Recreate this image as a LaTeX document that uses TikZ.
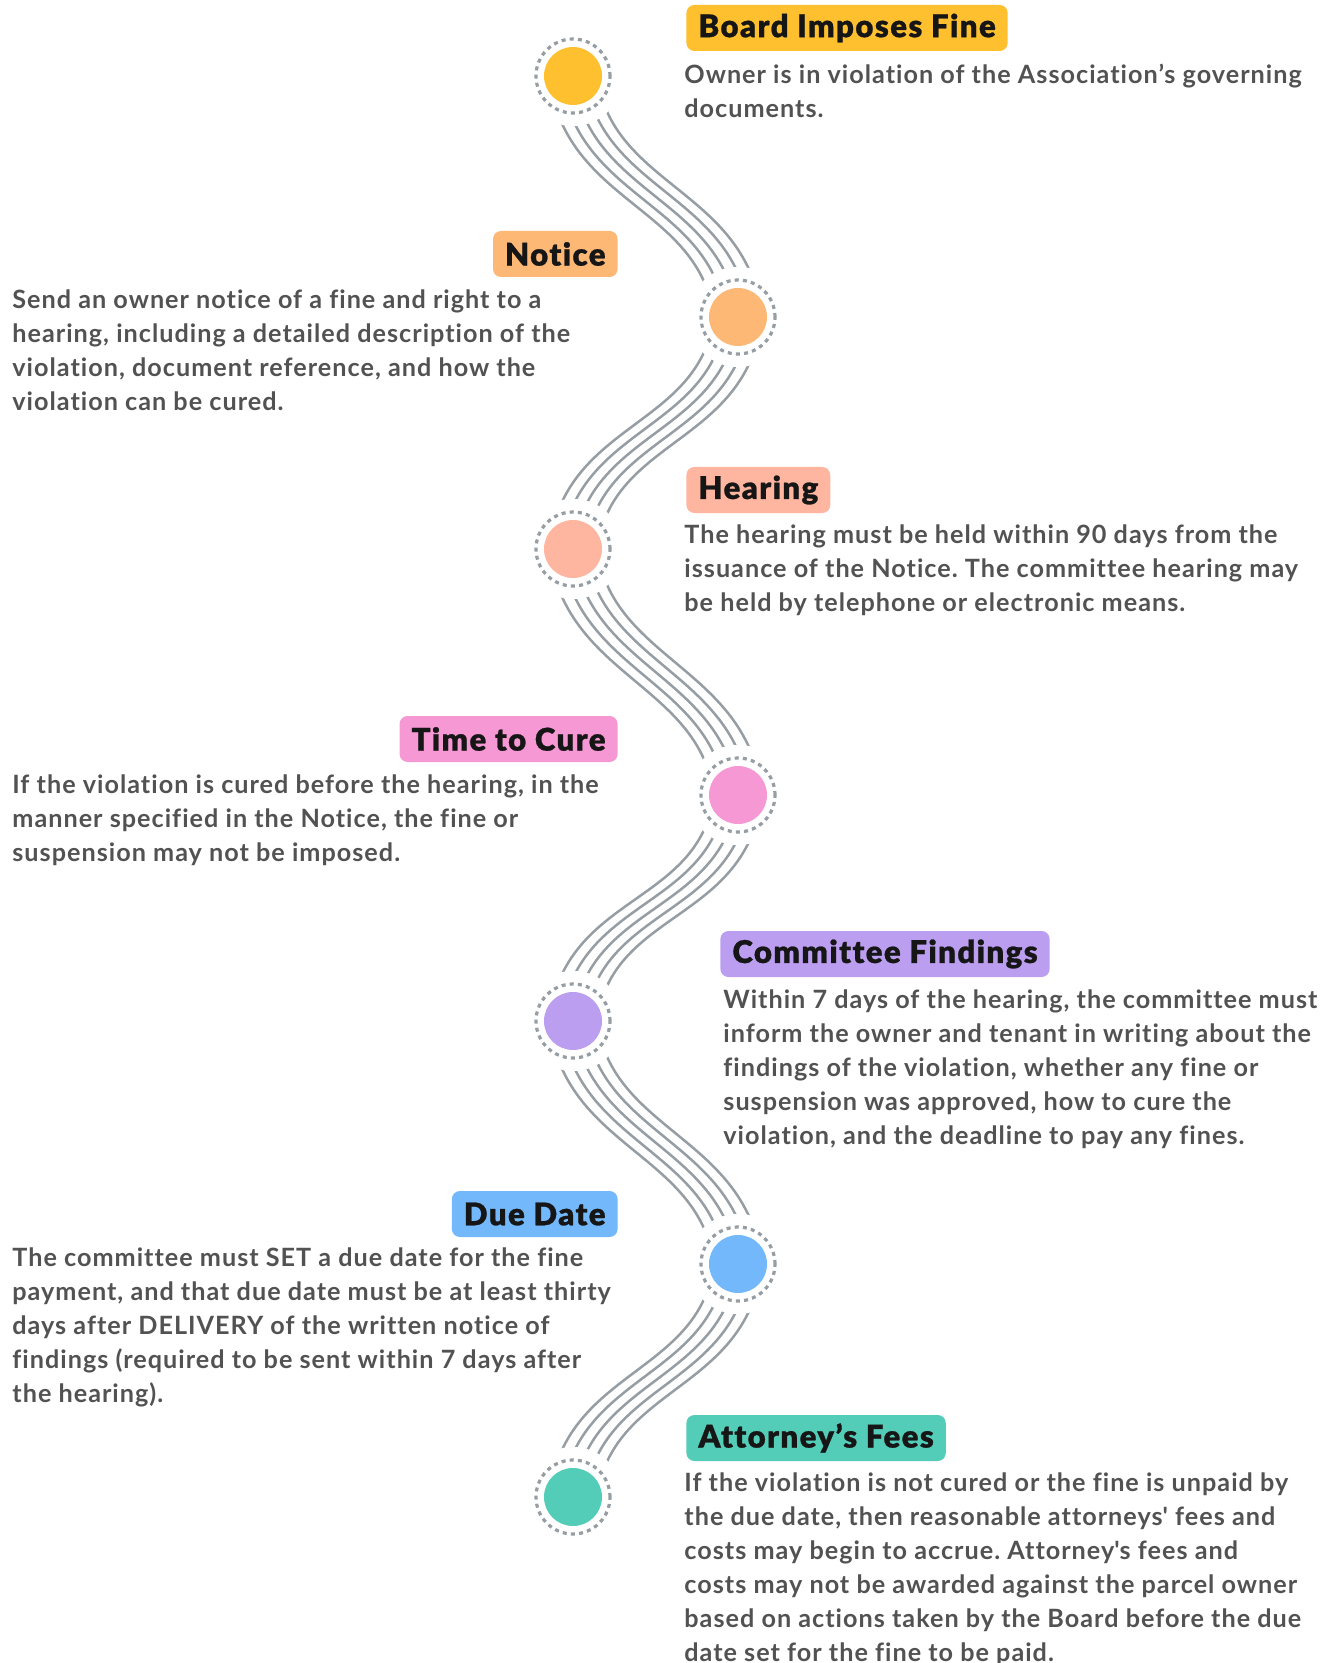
\documentclass[tikz,border=0pt]{standalone}
\usepackage{fontspec}
\setmainfont{Lato}
\newfontfamily\headfont{Lato Black}[LetterSpace=4.5, FakeBold=0.8, Ligatures={TeX,NoCommon}]
\newfontfamily\bodyfont{Lato}[LetterSpace=4, Ligatures={TeX,NoCommon}]
\usetikzlibrary{positioning}
\definecolor{ringgray}{RGB}{150,157,163}
\definecolor{bodygray}{RGB}{82,82,82}
\definecolor{headblack}{RGB}{22,22,22}
\definecolor{fineyellow}{RGB}{254,192,47}
\definecolor{noticeorange}{RGB}{253,184,117}
\definecolor{hearingsalmon}{RGB}{254,182,160}
\definecolor{curepink}{RGB}{246,152,211}
\definecolor{findingslilac}{RGB}{187,158,240}
\definecolor{dueblue}{RGB}{115,184,250}
\definecolor{feesteal}{RGB}{83,205,184}
\pgfdeclarelayer{bg}
\pgfsetlayers{bg,main}

\begin{document}
\frenchspacing
\begin{tikzpicture}[x=0.5pt, y=-0.5pt,
		stepDot/.style={circle, draw=ringgray, line width=1.6pt, dash pattern=on 2pt off 2.1pt, minimum size=37pt, inner sep=0pt,
			path picture={\fill[#1] (path picture bounding box.center) circle (14.5pt);}},
		badge/.style={fill=#1, rounded corners=4pt, minimum height=23pt, inner xsep=6pt, inner ysep=0pt, text=headblack, font=\headfont\fontsize{15.6}{18}\selectfont},
		descr/.style={align=left, inner sep=0pt, anchor=north west, text=bodygray, font=\bodyfont\bfseries\fontsize{12.6}{17}\selectfont},
		waveStyle/.style={draw=ringgray, line width=1.25pt},]
	
	\useasboundingbox (0,0) rectangle (1335,1663);
	
	\node[stepDot=fineyellow] (s1) at (573,76) {};
	\node[stepDot=noticeorange] (s2) at (738,317) {};
	\node[stepDot=hearingsalmon] (s3) at (573,549) {};
	\node[stepDot=curepink] (s4) at (738,795) {};
	\node[stepDot=findingslilac] (s5) at (573,1021) {};
	\node[stepDot=dueblue] (s6) at (738,1264) {};
	\node[stepDot=feesteal] (s7) at (573,1497) {};
	
	\node[badge=fineyellow, anchor=west] (b1) at (686,28) {Board Imposes Fine};
	\node[badge=noticeorange, anchor=east] (b2) at (618,254) {Notice};
	\node[badge=hearingsalmon, anchor=west] (b3) at (686,490) {Hearing};
	\node[badge=curepink, anchor=east] (b4) at (618,739) {Time to Cure};
	\node[badge=findingslilac, anchor=west] (b5) at (720,954) {Committee Findings};
	\node[badge=dueblue, anchor=east] (b6) at (618,1214) {Due Date};
	\node[badge=feesteal, anchor=west] (b7) at (686,1438) {Attorney’s Fees};
	
	\node[descr] (d1) at (684,64) {Owner is in violation of the Association’s governing\\documents.};
	\node[descr] (d2) at (12,289) {Send an owner notice of a fine and right to a\\hearing, including a detailed description of the\\violation, document reference, and how the\\violation can be cured.};
	\node[descr] (d3) at (684,524) {The hearing must be held within 90 days from the\\issuance of the Notice. The committee hearing may\\be held by telephone or electronic means.};
	\node[descr] (d4) at (12,774) {If the violation is cured before the hearing, in the\\manner specified in the Notice, the fine or\\suspension may not be imposed.};
	\node[descr] (d5) at (723,989) {Within 7 days of the hearing, the committee must\\inform the owner and tenant in writing about the\\findings of the violation, whether any fine or\\suspension was approved, how to cure the\\violation, and the deadline to pay any fines.};
	\node[descr] (d6) at (12,1247) {The committee must SET a due date for the fine\\payment, and that due date must be at least thirty\\days after DELIVERY of the written notice of\\findings (required to be sent within 7 days after\\the hearing).};
	\node[descr] (d7) at (684,1472) {If the violation is not cured or the fine is unpaid by\\the due date, then reasonable attorneys\textquotesingle\ fees and\\costs may begin to accrue. Attorney\textquotesingle s fees and\\costs may not be awarded against the parcel owner\\based on actions taken by the Board before the due\\date set for the fine to be paid.};
	
	\begin{pgfonlayer}{bg}
		\foreach \a/\b/\u/\w/\s in {1/2/7.5/-7.5/1, 2/3/-7.5/7.5/-1, 3/4/7.5/-7.5/1, 4/5/-7.5/7.5/-1, 5/6/7.5/-7.5/1, 6/7/-7.5/7.5/-1}{
			\foreach \k in {-2,...,2}
			\draw[waveStyle] ([xshift=\k*6pt]s\a.center) .. controls +(\u pt,-60pt+\s*\k*2pt) and +(\w pt,60pt+\s*\k*2pt) .. ([xshift=\k*6pt]s\b.center);
			\fill[white] (s\a) circle (25pt);
			\fill[white] (s\b) circle (25pt);
		}
	\end{pgfonlayer}
\end{tikzpicture}
\end{document}
